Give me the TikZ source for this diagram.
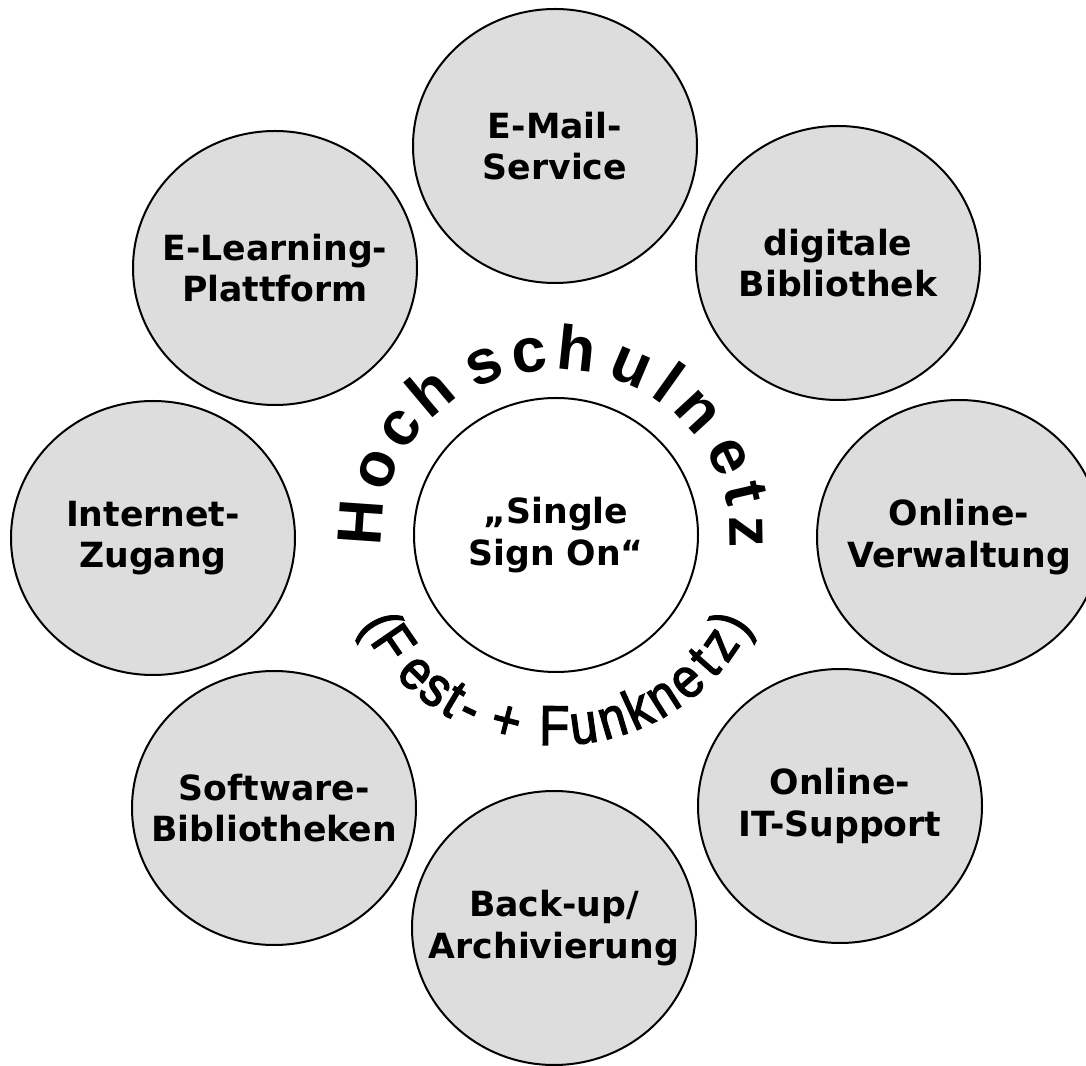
\documentclass[tikz,border=0pt]{standalone}
\usepackage{fontspec}
\setmainfont{DejaVu Sans}
\newfontfamily\arcfont{Liberation Sans Bold}
\newfontfamily\lowfont[FakeBold=2.5]{Liberation Sans}
\usetikzlibrary{shapes.geometric}
\definecolor{bubble}{HTML}{DDDDDD}

\begin{document}
\begin{tikzpicture}[
    x=0.75pt, y=0.75pt,
    service/.style={ellipse, draw, line width=1.5pt, fill=bubble,
        minimum width=213pt, minimum height=205.5pt, inner sep=0pt},
    caption/.style={align=center, inner sep=0pt,
        font=\fontsize{26}{31}\selectfont\bfseries},
    toparc/.style={anchor=base, inner sep=0pt,
        font=\arcfont\fontsize{47}{47}\selectfont},
    lowarc/.style={anchor=base, inner sep=0pt,
        font=\lowfont\fontsize{42}{42}\selectfont},
]
    \useasboundingbox (0, 0) rectangle (1086, 1065);

    \node[service, label={[caption]center:{E-Mail-\\Service}}] (email) at (555, 919) {};
    \node[service, label={[caption]center:{digitale\\Bibliothek}}] (diglib) at (838, 802) {};
    \node[service, label={[caption]center:{Online-\\Verwaltung}}] (admin) at (959, 528) {};
    \node[service, label={[caption]center:{Online-\\IT-Support}}] (support) at (840, 259) {};
    \node[service, label={[caption]center:{Back-up/\\Archivierung}}] (backup) at (554, 137) {};
    \node[service, label={[caption]center:{Software-\\Bibliotheken}}] (software) at (274, 257) {};
    \node[service, label={[caption]center:{Internet-\\Zugang}}] (internet) at (153, 527) {};
    \node[service, label={[caption]center:{E-Learning-\\Plattform}}] (elearn) at (275, 797) {};

    \node[service, fill=white, label={[caption]center:{„Single\\Sign On“}}] (hub) at (556, 530) {};

    \foreach \ang/\ch in {176/H, 159/o, 144/c, 130/h, 112/s, 98/c, 84/h,
            67/u, 54.5/l, 42.6/n, 25.5/e, 13/t, 1/z}
        \node[toparc, rotate=\ang-90] at ([shift={(\ang:174 and 165)}]hub.center) {\ch};

    \foreach \ang/\ch in {207.5/(, 214.5/F, 225.5/e, 233/s, 239/t, 244.5/-,
            255.5/+, 269.5/F, 278/u, 286.5/n, 294.5/k, 302.5/n, 311/e,
            318.5/t, 325.5/z, 332.5/)}
        \node[lowarc, rotate=\ang+90, xscale=0.88] at ([shift={(\ang:216 and 210)}]hub.center) {\ch};
\end{tikzpicture}
\end{document}
